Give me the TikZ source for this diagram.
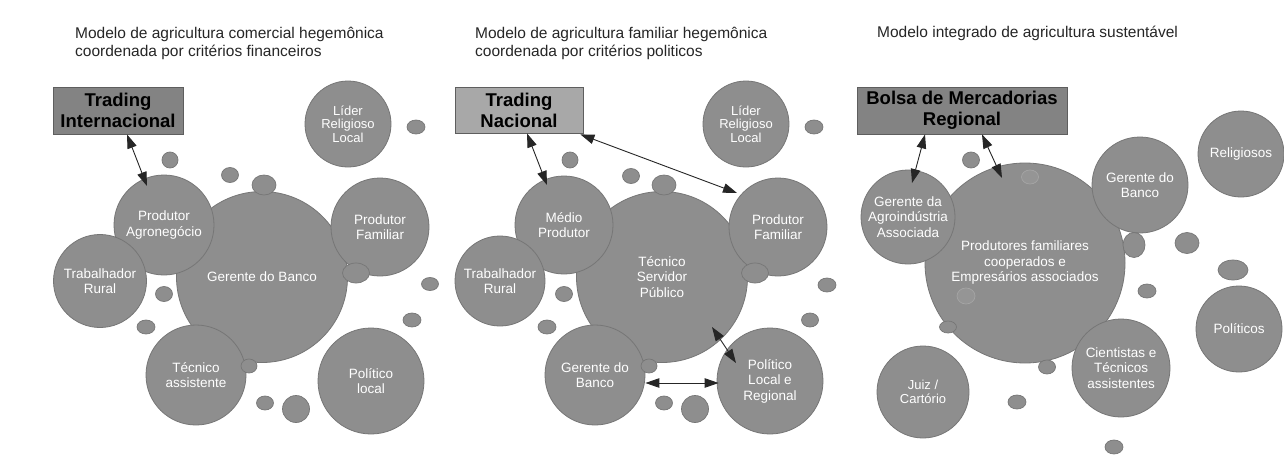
\documentclass[tikz,border=0pt]{standalone}
\usepackage{fontspec}
\setmainfont{Liberation Sans}
\usetikzlibrary{arrows.meta,calc,shapes.geometric}
\definecolor{bub}{HTML}{8E8E8E}
\definecolor{bubedge}{HTML}{767676}
\definecolor{boxdark}{HTML}{838383}
\definecolor{boxlight}{HTML}{A8A8A8}
\definecolor{boxedge}{HTML}{5E5E5E}
\definecolor{titlegray}{HTML}{262626}
\definecolor{faint}{HTML}{959595}
\begin{document}
\begin{tikzpicture}[x=1pt,y=-1pt,
  bubble/.style={circle,fill=bub,draw=bubedge,line width=0.8pt,inner sep=0pt,text=white,align=center,font=\fontsize{13.5}{15.5}\selectfont},
  tightbubble/.style={bubble,font=\fontsize{13}{13.5}\selectfont},
  dot/.style={ellipse,fill=bub,draw=bubedge,line width=0.7pt,inner sep=0pt},
  faintdot/.style={ellipse,fill=faint,draw=faint!85!white,line width=0.7pt,inner sep=0pt},
  tbox/.style={rectangle,draw=boxedge,line width=0.8pt,inner sep=0pt,align=center,text=black,font=\bfseries\fontsize{18.5}{21}\selectfont},
  title/.style={anchor=north west,inner sep=0pt,align=left,text=titlegray,font=\fontsize{15.5}{18}\selectfont},
  conn/.style={{Triangle[length=14pt,width=9.5pt]}-{Triangle[length=14pt,width=9.5pt]},line width=0.9pt,draw=black!85}]
\useasboundingbox (0,0) rectangle (1284,463);
\fill[white] (0,0) rectangle (1284,463);

% ---------- titles ----------
\node[title] (t1) at (75,27) {Modelo de agricultura comercial hegemônica\\coordenada por critérios financeiros};
\node[title] (t2) at (475,27) {Modelo de agricultura familiar hegemônica\\coordenada por critérios politicos};
\node[title] (t3) at (877,26) {Modelo integrado de agricultura sustentável};

% ---------- panel 1 ----------
\node[tbox,fill=boxdark,minimum width=130pt,minimum height=47pt] (ti) at (118,110.5) {Trading\\Internacional};
\node[bubble,minimum size=171pt] (gb1) at (262,277) {Gerente do Banco};
\node[tightbubble,minimum size=86pt] (lr1) at (348,124) {Líder\\Religioso\\Local};
\node[bubble,minimum size=100pt] (pa) at (164,225) {Produtor\\Agronegócio};
\node[bubble,minimum size=98pt] (pf1) at (380,227) {Produtor\\Familiar};
\node[bubble,minimum size=93pt] (tr1) at (100,281) {Trabalhador\\Rural};
\node[bubble,minimum size=100pt] (ta) at (196,375) {Técnico\\assistente};
\node[bubble,minimum size=106pt] (pl1) at (371,381) {Político\\local};
\node[dot,minimum width=18pt,minimum height=14pt] (d101) at (416,127) {};
\node[dot,minimum width=16pt,minimum height=16pt] (d102) at (170,160) {};
\node[dot,minimum width=17pt,minimum height=15pt] (d103) at (230,175) {};
\node[dot,minimum width=24pt,minimum height=20pt] (d104) at (264,185) {};
\node[dot,minimum width=27pt,minimum height=20pt] (d105) at (356,273) {};
\node[dot,minimum width=17pt,minimum height=13pt] (d106) at (430,284) {};
\node[dot,minimum width=17pt,minimum height=15pt] (d107) at (164,294) {};
\node[dot,minimum width=18pt,minimum height=14pt] (d108) at (146,327) {};
\node[dot,minimum width=18pt,minimum height=14pt] (d109) at (412,320) {};
\node[dot,minimum width=16pt,minimum height=14pt] (d110) at (249,366) {};
\node[dot,minimum width=17pt,minimum height=14pt] (d111) at (265,403) {};
\node[dot,minimum width=27pt,minimum height=27pt] (d112) at (296,409) {};
\draw[conn] ([xshift=9pt]ti.south) -- ($(pa)+(-17,-39)$);

% ---------- panel 2 ----------
\node[tbox,fill=boxlight,minimum width=128pt,minimum height=46pt] (tn) at (519,110) {Trading\\Nacional};
\node[bubble,minimum size=171pt] (ts) at (662,277) {Técnico\\Servidor\\Público};
\node[tightbubble,minimum size=86pt] (lr2) at (746,124) {Líder\\Religioso\\Local};
\node[bubble,minimum size=98pt] (mp) at (564,225) {Médio\\Produtor};
\node[bubble,minimum size=98pt] (pf2) at (778,227) {Produtor\\Familiar};
\node[bubble,minimum size=90pt] (tr2) at (500,281) {Trabalhador\\Rural};
\node[bubble,minimum size=100pt] (gb2) at (595,375) {Gerente do\\Banco};
\node[bubble,minimum size=106pt] (pl2) at (770,381) {Político\\Local e\\Regional};
\node[dot,minimum width=18pt,minimum height=14pt] (d201) at (814,127) {};
\node[dot,minimum width=16pt,minimum height=16pt] (d202) at (570,160) {};
\node[dot,minimum width=17pt,minimum height=15pt] (d203) at (631,176) {};
\node[dot,minimum width=24pt,minimum height=20pt] (d204) at (664,185) {};
\node[dot,minimum width=27pt,minimum height=20pt] (d205) at (755,273) {};
\node[dot,minimum width=18pt,minimum height=14pt] (d206) at (827,285) {};
\node[dot,minimum width=17pt,minimum height=15pt] (d207) at (564,294) {};
\node[dot,minimum width=18pt,minimum height=14pt] (d208) at (547,327) {};
\node[dot,minimum width=17pt,minimum height=14pt] (d209) at (810,320) {};
\node[dot,minimum width=16pt,minimum height=14pt] (d210) at (649,366) {};
\node[dot,minimum width=17pt,minimum height=14pt] (d211) at (664,403) {};
\node[dot,minimum width=27pt,minimum height=27pt] (d212) at (695,409) {};
\draw[conn] ([xshift=8pt]tn.south) -- ($(mp)+(-17,-40)$);
\draw[conn] ([xshift=-3pt,yshift=-1pt]tn.south east) -- ($(pf2)+(-41,-34)$);
\draw[conn] ($(ts)+(50,50)$) -- ($(pl2)+(-34,-18)$);
\draw[conn] ($(gb2.east)+(0,8)$) -- ($(pl2.west)+(2,2)$);

% ---------- panel 3 ----------
\node[tbox,fill=boxdark,minimum width=210pt,minimum height=47pt] (bm) at (962,110.5) {Bolsa de Mercadorias\\Regional};
\node[bubble,minimum size=200pt] (pc) at (1025,263) {Produtores familiares\\cooperados e\\Empresários associados};
\node[faintdot,minimum width=17pt,minimum height=14pt] (d301) at (1030,177) {};
\node[faintdot,minimum width=18pt,minimum height=16pt] (d302) at (966,296) {};
\node[bubble,minimum size=94pt] (ga) at (908,217) {Gerente da\\Agroindústria\\Associada};
\node[bubble,minimum size=96pt] (gb3) at (1140,185) {Gerente do\\Banco};
\node[bubble,minimum size=86pt] (rl) at (1241,154) {Religiosos};
\node[bubble,minimum size=86pt] (po) at (1239,329) {Políticos};
\node[bubble,minimum size=98pt] (ct) at (1121,368) {Cientistas e\\Técnicos\\assistentes};
\node[tightbubble,minimum size=92pt] (jc) at (923,392) {Juiz /\\Cartório};
\node[dot,minimum width=17pt,minimum height=16pt] (d303) at (971,160) {};
\node[dot,minimum width=22pt,minimum height=25pt] (d304) at (1134,245) {};
\node[dot,minimum width=24pt,minimum height=21pt] (d305) at (1187,243) {};
\node[dot,minimum width=30pt,minimum height=20pt] (d306) at (1233,270) {};
\node[dot,minimum width=18pt,minimum height=14pt] (d307) at (1147,291) {};
\node[dot,minimum width=17pt,minimum height=12pt] (d308) at (948,327) {};
\node[dot,minimum width=17pt,minimum height=14pt] (d309) at (1047,367) {};
\node[dot,minimum width=18pt,minimum height=14pt] (d310) at (1017,402) {};
\node[dot,minimum width=18pt,minimum height=14pt] (d311) at (1114,447) {};
\draw[conn] ([xshift=-37pt]bm.south) -- ($(ga)+(4,-34)$);
\draw[conn] ([xshift=20pt]bm.south) -- ($(pc)+(-23,-85)$);
\end{tikzpicture}
\end{document}
